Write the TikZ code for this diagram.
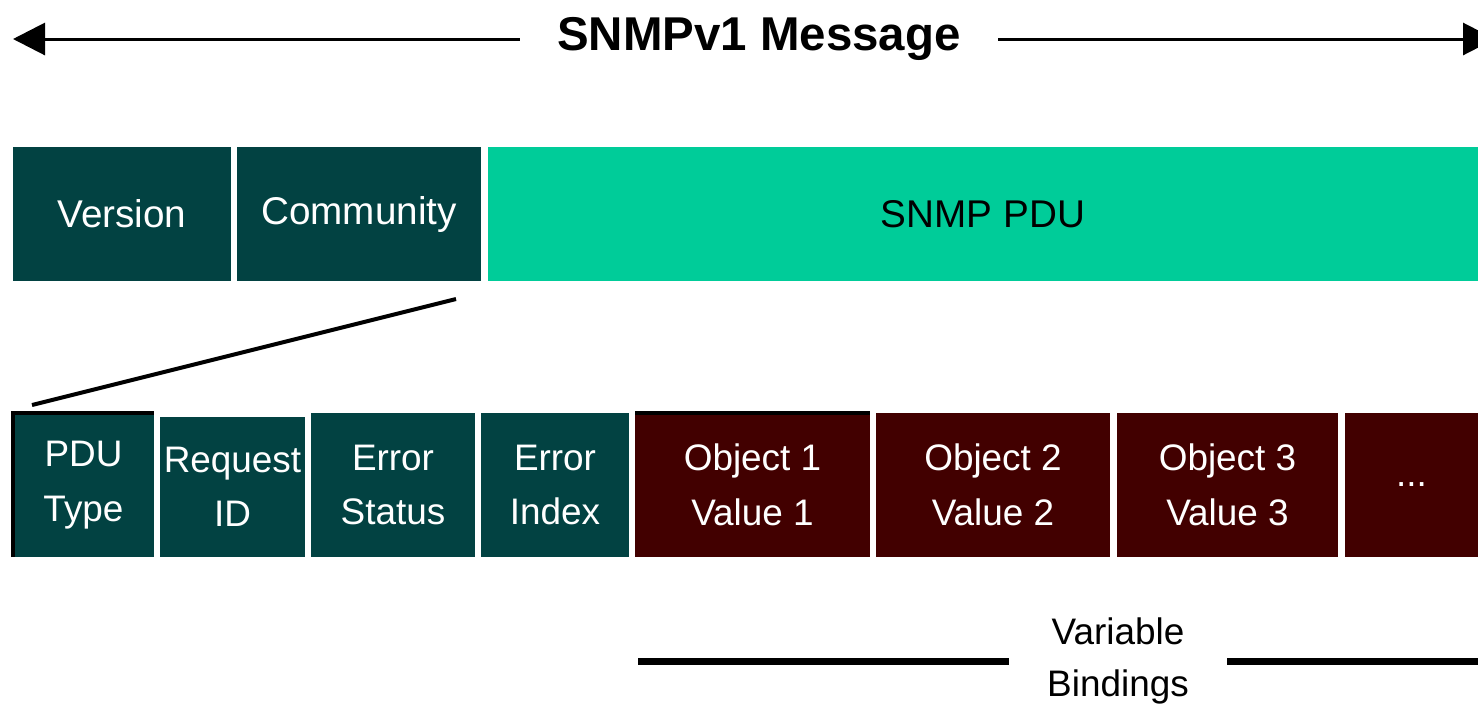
\documentclass[tikz,border=0pt]{standalone}
\usepackage{fontspec}
\setmainfont{Liberation Sans}
\usetikzlibrary{arrows.meta,positioning}
\definecolor{snteal}{HTML}{024242}
\definecolor{sngreen}{HTML}{00CC99}
\definecolor{snred}{HTML}{420000}

\begin{document}
\begin{tikzpicture}[
  font=\fontsize{22}{26}\selectfont,
  hdr/.style={fill=snteal, text=white, inner sep=0pt, outer sep=0pt, minimum height=2.68cm},
  pdubox/.style={fill=sngreen, text=black, inner sep=0pt, outer sep=0pt, minimum height=2.68cm},
  fld/.style={fill=snteal, text=white, inner sep=0pt, outer sep=0pt, minimum height=2.88cm, align=center, font=\fontsize{21}{31}\selectfont},
  vbind/.style={fill=snred, text=white, inner sep=0pt, outer sep=0pt, minimum height=2.88cm, align=center, font=\fontsize{21}{31}\selectfont},
  msgarrow/.style={line width=0.06cm, -{Triangle[length=0.64cm,width=0.64cm]}},
  vbline/.style={line width=0.14cm},
  topedge/.style={line width=0.07cm}
]
\useasboundingbox (0,0) rectangle (29.56,-14.22);

% message span
\node[font=\fontsize{27}{32}\selectfont\bfseries, minimum width=9.56cm, inner sep=0pt] (title) at (15.18,-0.78) {SNMPv1 Message};
\coordinate (ltip) at (0.26,-0.78);
\coordinate (rtip) at (29.9,-0.78);
\draw[msgarrow] (title.west) -- (ltip);
\draw[msgarrow] (title.east) -- (rtip);

% top row
\node[hdr, minimum width=4.36cm, anchor=north west] (version) at (0.26,-2.94) {Version};
\node[hdr, minimum width=4.88cm, right=0.12cm of version] (community) {Community};
\node[pdubox, minimum width=19.8cm, right=0.14cm of community] (snmppdu) {SNMP PDU};

% pdu fields
\node[fld, minimum width=2.82cm, anchor=north west] (pdutype) at (0.26,-8.26) {PDU\\Type};
\node[fld, minimum width=2.9cm, minimum height=2.8cm, right=0.12cm of pdutype.south east, anchor=south west] (reqid) {Request\\ID};
\node[fld, minimum width=3.28cm, right=0.12cm of reqid.south east, anchor=south west] (errstat) {Error\\Status};
\node[fld, minimum width=2.96cm, right=0.12cm of errstat] (errind) {Error\\Index};
\node[vbind, minimum width=4.7cm, right=0.12cm of errind] (obj1) {Object 1\\Value 1};
\node[vbind, minimum width=4.68cm, right=0.12cm of obj1] (obj2) {Object 2\\Value 2};
\node[vbind, minimum width=4.42cm, right=0.14cm of obj2] (obj3) {Object 3\\Value 3};
\node[vbind, minimum width=2.66cm, right=0.14cm of obj3] (more) {...};
\draw[topedge] (pdutype.south west) -- (pdutype.north west) -- (pdutype.north east);
\draw[topedge] (obj1.north west) -- (obj1.north east);

% zoom line
\coordinate (zs) at ([xshift=-0.5cm,yshift=-0.36cm]community.south east);
\coordinate (ze) at ([xshift=0.38cm,yshift=0.16cm]pdutype.north west);
\draw[line width=0.08cm] (zs) -- (ze);

% variable bindings
\node[font=\fontsize{21}{30}\selectfont, align=center, minimum width=4.36cm, inner sep=0pt] (vb) at (22.36,-13.22) {Variable\\Bindings};
\coordinate (vbl) at (12.76,-13.22);
\coordinate (vbr) at (29.56,-13.22);
\draw[vbline] (vb.west) -- (vbl);
\draw[vbline] (vb.east) -- (vbr);
\end{tikzpicture}
\end{document}
